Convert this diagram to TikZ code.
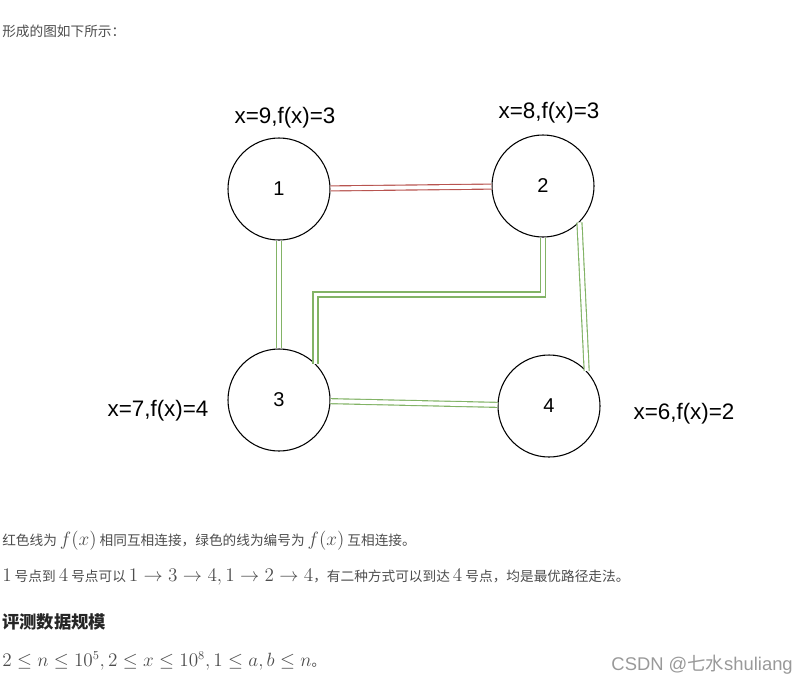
\documentclass[tikz,border=0pt]{standalone}
\usepackage{amsmath}
\usepackage{amssymb}
\usepackage{fontspec}
\setmainfont{Liberation Sans}
\newfontfamily\cjk{Noto Sans CJK SC}
\usetikzlibrary{positioning}
\definecolor{linkred}{HTML}{B85450}
\definecolor{linkgreen}{HTML}{82B366}
\definecolor{bodygray}{HTML}{4D4D4D}
\newcommand{\mth}[1]{{\fontsize{13.4pt}{16pt}\selectfont$#1$}}
\tikzset{
	vertex/.style={circle, draw=black, line width=0.8pt, minimum size=76.5pt, inner sep=0pt, font=\fontsize{15}{18}\selectfont},
	link/.style={double, line width=0.85pt, double distance=2.9pt}
}

\begin{document}
\begin{tikzpicture}[
		x=0.75pt, y=-0.75pt,
		info/.style={font=\fontsize{16.8}{20}\selectfont},
		para/.style={anchor=west, inner sep=0pt, text=bodygray, font=\cjk\fontsize{10.25}{12}\selectfont},
		heading/.style={anchor=west, inner sep=0pt, text=black!85, font=\cjk\bfseries\fontsize{13}{16}\selectfont},
		watermark/.style={anchor=east, inner sep=0pt, text=black!40, font=\fontsize{13.8}{16}\selectfont}
		]
		\useasboundingbox (0,0) rectangle (809,686);
		
		\node[para] (intro) at (2,31) {形成的图如下所示：};
		
		\node[vertex] (n1) at (279,189) {1};
		\node[vertex] (n2) at (543,186) {2};
		\node[vertex] (n3) at (279,400) {3};
		\node[vertex] (n4) at (549,406) {4};
		
		\node[info] (f1) at (285,118) {x=9,f(x)=3};
		\node[info] (f2) at (549,113) {x=8,f(x)=3};
		\node[info] (f3) at (158,411) {x=7,f(x)=4};
		\node[info] (f4) at (684,414) {x=6,f(x)=2};
		
		\draw[link, draw=linkred] (n1) -- (n2);
		\draw[link, draw=linkgreen] (n1) -- (n3);
		\draw[link, draw=linkgreen] (n2.south) -- ++(0,57) -| (n3.45);
		\draw[link, draw=linkgreen] (n2.-45) -- (n4.43);
		\draw[link, draw=linkgreen] (n3) -- (n4);
		
		\node[para] (note1) at (2,541) {红色线为 \mth{f(x)} 相同互相连接，绿色的线为编号为 \mth{f(x)} 互相连接。};
		\node[para] (note2) at (2,577) {\mth{1} 号点到 \mth{4} 号点可以 \mth{1\rightarrow 3\rightarrow 4,1\rightarrow 2\rightarrow 4}，有二种方式可以到达 \mth{4} 号点，均是最优路径走法。};
		\node[heading] (scale) at (2,622) {评测数据规模};
		\node[para] (bounds) at (2,661) {\mth{2\le n\le 10^5,2\le x\le 10^8,1\le a,b\le n}。};
		\node[watermark] (mark) at (793,665) {CSDN @{\cjk 七水}shuliang};
		
	\end{tikzpicture}
\end{document}
